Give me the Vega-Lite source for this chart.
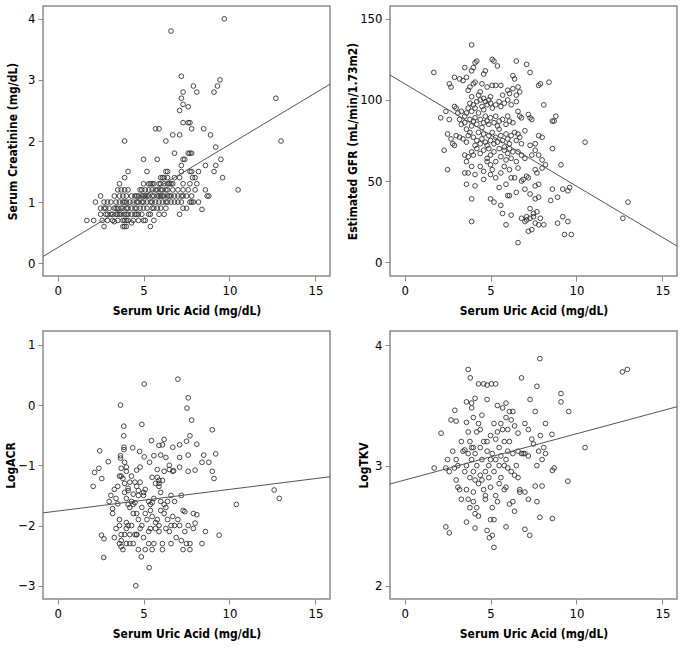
{
"$schema": "https://vega.github.io/schema/vega-lite/v6.json",
"padding": {"left": 3, "top": 5, "right": 3, "bottom": 5},
"background": "white",
"columns": 2,
"spacing": {"row": 55, "column": 60},
"bounds": "flush",
"datasets": {
"p1": [
{"uric":9.7,"value":4.0},{"uric":6.6,"value":3.8},{"uric":7.2,"value":3.06},{"uric":9.45,"value":3.0},{"uric":9.3,"value":2.9},{"uric":7.9,"value":2.9},{"uric":9.1,"value":2.8},{"uric":8.1,"value":2.8},{"uric":7.3,"value":2.8},{"uric":7.2,"value":2.7},{"uric":12.7,"value":2.7},{"uric":7.3,"value":2.6},{"uric":7.6,"value":2.56},{"uric":7.1,"value":2.5},{"uric":7.3,"value":2.3},{"uric":7.6,"value":2.3},{"uric":7.7,"value":2.3},{"uric":5.7,"value":2.2},{"uric":5.9,"value":2.2},{"uric":7.8,"value":2.2},{"uric":8.5,"value":2.2},{"uric":6.7,"value":2.1},{"uric":7.1,"value":2.1},{"uric":8.9,"value":2.1},{"uric":3.9,"value":2.0},{"uric":6.3,"value":2.0},{"uric":13.0,"value":2.0},{"uric":9.2,"value":1.9},{"uric":6.8,"value":1.8},{"uric":7.6,"value":1.8},{"uric":7.7,"value":1.8},{"uric":7.8,"value":1.8},{"uric":5.0,"value":1.7},{"uric":5.8,"value":1.7},{"uric":7.3,"value":1.7},{"uric":7.4,"value":1.7},{"uric":9.5,"value":1.7},{"uric":7.2,"value":1.6},{"uric":8.6,"value":1.6},{"uric":9.2,"value":1.6},{"uric":10.5,"value":1.2},{"uric":8.4,"value":0.88},{"uric":1.7,"value":0.7},{"uric":2.1,"value":0.7},{"uric":2.5,"value":1.1},{"uric":2.2,"value":1.0},
{"uric":4.1,"value":1.5},{"uric":5.2,"value":1.5},{"uric":6.3,"value":1.5},{"uric":6.4,"value":1.5},{"uric":7.2,"value":1.5},{"uric":7.7,"value":1.5},{"uric":7.8,"value":1.5},{"uric":8.2,"value":1.5},{"uric":9.1,"value":1.5},
{"uric":3.9,"value":1.4},{"uric":6.0,"value":1.4},{"uric":6.1,"value":1.4},{"uric":6.2,"value":1.4},{"uric":6.4,"value":1.4},{"uric":6.8,"value":1.4},{"uric":7.1,"value":1.4},{"uric":7.85,"value":1.4},{"uric":8.0,"value":1.4},{"uric":9.6,"value":1.4},
{"uric":3.6,"value":1.3},{"uric":5.0,"value":1.3},{"uric":5.3,"value":1.3},{"uric":5.4,"value":1.3},{"uric":5.5,"value":1.3},{"uric":5.6,"value":1.3},{"uric":5.9,"value":1.3},{"uric":6.0,"value":1.3},{"uric":6.2,"value":1.3},{"uric":6.4,"value":1.3},{"uric":6.5,"value":1.3},{"uric":6.6,"value":1.3},{"uric":6.7,"value":1.3},{"uric":7.3,"value":1.3},{"uric":7.7,"value":1.3},{"uric":8.1,"value":1.3},
{"uric":3.5,"value":1.2},{"uric":3.7,"value":1.2},{"uric":3.9,"value":1.2},{"uric":4.1,"value":1.2},{"uric":4.8,"value":1.2},{"uric":4.9,"value":1.2},{"uric":5.1,"value":1.2},{"uric":5.3,"value":1.2},{"uric":5.5,"value":1.2},{"uric":5.7,"value":1.2},{"uric":5.8,"value":1.2},{"uric":6.0,"value":1.2},{"uric":6.1,"value":1.2},{"uric":6.3,"value":1.2},{"uric":6.4,"value":1.2},{"uric":6.7,"value":1.2},{"uric":7.0,"value":1.2},{"uric":7.3,"value":1.2},{"uric":7.6,"value":1.2},{"uric":8.0,"value":1.2},{"uric":8.6,"value":1.2},
{"uric":3.3,"value":1.1},{"uric":3.6,"value":1.1},{"uric":3.8,"value":1.1},{"uric":4.0,"value":1.1},{"uric":4.3,"value":1.1},{"uric":4.5,"value":1.1},{"uric":4.6,"value":1.1},{"uric":4.7,"value":1.1},{"uric":4.9,"value":1.1},{"uric":5.0,"value":1.1},{"uric":5.1,"value":1.1},{"uric":5.2,"value":1.1},{"uric":5.3,"value":1.1},{"uric":5.5,"value":1.1},{"uric":5.6,"value":1.1},{"uric":5.8,"value":1.1},{"uric":5.9,"value":1.1},{"uric":6.0,"value":1.1},{"uric":6.1,"value":1.1},{"uric":6.2,"value":1.1},{"uric":6.4,"value":1.1},{"uric":6.5,"value":1.1},{"uric":6.6,"value":1.1},{"uric":6.8,"value":1.1},{"uric":7.0,"value":1.1},{"uric":7.2,"value":1.1},{"uric":7.3,"value":1.1},{"uric":7.5,"value":1.1},{"uric":7.8,"value":1.1},{"uric":8.7,"value":1.1},{"uric":8.8,"value":1.1},
{"uric":2.7,"value":1.0},{"uric":2.9,"value":1.0},{"uric":3.1,"value":1.0},{"uric":3.4,"value":1.0},{"uric":3.6,"value":1.0},{"uric":3.8,"value":1.0},{"uric":3.9,"value":1.0},{"uric":4.0,"value":1.0},{"uric":4.2,"value":1.0},{"uric":4.4,"value":1.0},{"uric":4.6,"value":1.0},{"uric":4.7,"value":1.0},{"uric":4.9,"value":1.0},{"uric":5.0,"value":1.0},{"uric":5.2,"value":1.0},{"uric":5.4,"value":1.0},{"uric":5.5,"value":1.0},{"uric":5.7,"value":1.0},{"uric":5.9,"value":1.0},{"uric":6.1,"value":1.0},{"uric":6.3,"value":1.0},{"uric":6.4,"value":1.0},{"uric":6.6,"value":1.0},{"uric":6.8,"value":1.0},{"uric":7.0,"value":1.0},{"uric":7.2,"value":1.0},{"uric":7.7,"value":1.0},{"uric":7.8,"value":1.0},{"uric":7.9,"value":1.0},{"uric":8.2,"value":1.0},
{"uric":2.5,"value":0.9},{"uric":2.7,"value":0.9},{"uric":2.8,"value":0.9},{"uric":3.0,"value":0.9},{"uric":3.3,"value":0.9},{"uric":3.4,"value":0.9},{"uric":3.5,"value":0.9},{"uric":3.7,"value":0.9},{"uric":3.8,"value":0.9},{"uric":4.0,"value":0.9},{"uric":4.1,"value":0.9},{"uric":4.3,"value":0.9},{"uric":4.5,"value":0.9},{"uric":4.6,"value":0.9},{"uric":4.8,"value":0.9},{"uric":5.0,"value":0.9},{"uric":5.2,"value":0.9},{"uric":5.5,"value":0.9},{"uric":5.6,"value":0.9},{"uric":5.8,"value":0.9},{"uric":6.0,"value":0.9},{"uric":6.3,"value":0.9},{"uric":7.3,"value":0.9},{"uric":7.5,"value":0.9},
{"uric":2.5,"value":0.8},{"uric":2.8,"value":0.8},{"uric":2.9,"value":0.8},{"uric":3.1,"value":0.8},{"uric":3.2,"value":0.8},{"uric":3.4,"value":0.8},{"uric":3.5,"value":0.8},{"uric":3.6,"value":0.8},{"uric":3.7,"value":0.8},{"uric":3.9,"value":0.8},{"uric":4.0,"value":0.8},{"uric":4.1,"value":0.8},{"uric":4.3,"value":0.8},{"uric":4.5,"value":0.8},{"uric":4.6,"value":0.8},{"uric":4.7,"value":0.8},{"uric":4.9,"value":0.8},{"uric":5.3,"value":0.8},{"uric":5.4,"value":0.8},{"uric":5.9,"value":0.8},{"uric":6.2,"value":0.8},{"uric":7.1,"value":0.8},
{"uric":2.6,"value":0.7},{"uric":2.9,"value":0.7},{"uric":3.2,"value":0.7},{"uric":3.5,"value":0.7},{"uric":3.8,"value":0.7},{"uric":3.9,"value":0.7},{"uric":4.0,"value":0.7},{"uric":4.1,"value":0.7},{"uric":4.4,"value":0.7},{"uric":4.7,"value":0.7},{"uric":5.0,"value":0.7},{"uric":5.1,"value":0.7},{"uric":5.6,"value":0.7},
{"uric":2.7,"value":0.6},{"uric":3.8,"value":0.6},{"uric":3.9,"value":0.6},{"uric":4.0,"value":0.6},{"uric":5.4,"value":0.6},{"uric":3.3,"value":0.68},{"uric":4.3,"value":0.66}
],
"p2": [
{"uric":3.9,"value":134},{"uric":1.7,"value":117},{"uric":5.1,"value":125},{"uric":5.2,"value":124},{"uric":4.1,"value":123},{"uric":4.2,"value":124},{"uric":6.5,"value":124},{"uric":7.1,"value":122},{"uric":5.4,"value":121},{"uric":3.5,"value":120},{"uric":4.7,"value":118},{"uric":7.3,"value":117},{"uric":4.0,"value":120},{"uric":3.9,"value":118},{"uric":4.6,"value":116},{"uric":6.3,"value":115},{"uric":6.4,"value":113},{"uric":2.9,"value":114},{"uric":3.2,"value":113},{"uric":3.6,"value":114},{"uric":3.4,"value":112},{"uric":4.1,"value":111},{"uric":4.0,"value":110},{"uric":8.4,"value":111},{"uric":7.8,"value":109},{"uric":7.9,"value":110},{"uric":2.6,"value":110},{"uric":2.7,"value":108},{"uric":5.1,"value":109},{"uric":5.6,"value":109},{"uric":5.3,"value":109},{"uric":4.8,"value":108},{"uric":4.5,"value":110},{"uric":6.6,"value":108},{"uric":6.7,"value":105},{"uric":6.0,"value":106},{"uric":6.1,"value":104},{"uric":4.4,"value":105},{"uric":3.8,"value":108},{"uric":3.7,"value":106},{"uric":5.7,"value":103},{"uric":5.0,"value":102},{"uric":4.3,"value":103},{"uric":3.9,"value":102},{"uric":6.5,"value":103},{"uric":6.3,"value":107},{"uric":4.6,"value":101},{"uric":8.1,"value":97},
{"uric":2.1,"value":89},{"uric":2.4,"value":93},{"uric":2.6,"value":88},{"uric":2.9,"value":96},{"uric":3.0,"value":95},{"uric":3.1,"value":92},{"uric":3.2,"value":88},{"uric":3.3,"value":93},{"uric":3.5,"value":90},{"uric":3.6,"value":92},{"uric":3.7,"value":95},{"uric":3.8,"value":98},{"uric":3.9,"value":93},{"uric":4.0,"value":97},{"uric":4.1,"value":95},{"uric":4.2,"value":99},{"uric":4.3,"value":92},{"uric":4.4,"value":100},{"uric":4.5,"value":96},{"uric":4.6,"value":94},{"uric":4.7,"value":99},{"uric":4.8,"value":97},{"uric":4.9,"value":100},{"uric":5.0,"value":98},{"uric":5.1,"value":95},{"uric":5.3,"value":97},{"uric":5.5,"value":99},{"uric":5.6,"value":96},{"uric":5.8,"value":98},{"uric":6.0,"value":100},{"uric":6.2,"value":97},{"uric":6.5,"value":99},
{"uric":3.3,"value":85},{"uric":3.5,"value":86},{"uric":3.6,"value":82},{"uric":3.8,"value":88},{"uric":3.9,"value":84},{"uric":4.0,"value":87},{"uric":4.1,"value":89},{"uric":4.2,"value":85},{"uric":4.4,"value":88},{"uric":4.5,"value":83},{"uric":4.6,"value":86},{"uric":4.7,"value":90},{"uric":4.8,"value":87},{"uric":4.9,"value":85},{"uric":5.0,"value":89},{"uric":5.2,"value":86},{"uric":5.3,"value":90},{"uric":5.4,"value":84},{"uric":5.5,"value":87},{"uric":5.7,"value":88},{"uric":5.9,"value":85},{"uric":6.0,"value":90},{"uric":6.1,"value":87},{"uric":6.3,"value":86},{"uric":6.6,"value":93},{"uric":6.7,"value":90},{"uric":6.8,"value":89},{"uric":7.2,"value":91},{"uric":7.3,"value":89},{"uric":7.4,"value":88},{"uric":8.6,"value":87},{"uric":8.7,"value":87},{"uric":8.8,"value":90},
{"uric":2.5,"value":79},{"uric":2.7,"value":76},{"uric":2.8,"value":73},{"uric":2.9,"value":72},{"uric":3.0,"value":78},{"uric":3.2,"value":77},{"uric":3.4,"value":76},{"uric":3.6,"value":74},{"uric":3.7,"value":78},{"uric":3.8,"value":80},{"uric":4.0,"value":77},{"uric":4.1,"value":72},{"uric":4.2,"value":75},{"uric":4.3,"value":80},{"uric":4.4,"value":73},{"uric":4.5,"value":76},{"uric":4.6,"value":79},{"uric":4.7,"value":74},{"uric":4.8,"value":72},{"uric":4.9,"value":78},{"uric":5.0,"value":75},{"uric":5.1,"value":80},{"uric":5.2,"value":73},{"uric":5.3,"value":77},{"uric":5.4,"value":74},{"uric":5.5,"value":82},{"uric":5.6,"value":78},{"uric":5.7,"value":75},{"uric":5.8,"value":71},{"uric":5.9,"value":79},{"uric":6.0,"value":76},{"uric":6.1,"value":73},{"uric":6.2,"value":78},{"uric":6.4,"value":80},{"uric":6.5,"value":75},{"uric":6.6,"value":79},{"uric":6.7,"value":77},{"uric":6.8,"value":73},{"uric":7.0,"value":81},{"uric":7.3,"value":72},{"uric":7.6,"value":73},{"uric":7.8,"value":78},{"uric":8.0,"value":77},{"uric":8.6,"value":70},
{"uric":2.3,"value":69},{"uric":3.5,"value":66},{"uric":3.6,"value":62},{"uric":3.7,"value":65},{"uric":3.9,"value":68},{"uric":4.0,"value":66},{"uric":4.2,"value":70},{"uric":4.4,"value":67},{"uric":4.6,"value":69},{"uric":4.8,"value":64},{"uric":4.9,"value":70},{"uric":5.0,"value":66},{"uric":5.2,"value":68},{"uric":5.3,"value":62},{"uric":5.5,"value":70},{"uric":5.6,"value":65},{"uric":5.8,"value":69},{"uric":5.9,"value":63},{"uric":6.0,"value":67},{"uric":6.1,"value":70},{"uric":6.2,"value":64},{"uric":6.3,"value":68},{"uric":6.5,"value":62},{"uric":6.6,"value":68},{"uric":6.8,"value":66},{"uric":7.0,"value":64},{"uric":7.4,"value":66},{"uric":7.6,"value":69},{"uric":7.8,"value":66},{"uric":8.0,"value":63},{"uric":8.2,"value":60},
{"uric":2.5,"value":57},{"uric":3.5,"value":55},{"uric":3.7,"value":55},{"uric":3.9,"value":59},{"uric":4.1,"value":54},{"uric":4.4,"value":59},{"uric":4.6,"value":56},{"uric":4.8,"value":62},{"uric":5.0,"value":60},{"uric":5.1,"value":57},{"uric":5.3,"value":52},{"uric":5.6,"value":55},{"uric":5.8,"value":59},{"uric":6.1,"value":57},{"uric":6.2,"value":52},{"uric":6.4,"value":52},{"uric":6.6,"value":58},{"uric":6.8,"value":50},{"uric":6.9,"value":51},{"uric":7.1,"value":53},{"uric":7.2,"value":52},{"uric":7.6,"value":57},{"uric":7.7,"value":55},{"uric":8.0,"value":58},{"uric":9.1,"value":60},{"uric":10.5,"value":74},
{"uric":3.6,"value":48},{"uric":4.1,"value":47},{"uric":4.6,"value":51},{"uric":5.0,"value":54},{"uric":5.5,"value":46},{"uric":5.9,"value":48},{"uric":6.0,"value":41},{"uric":6.1,"value":41},{"uric":6.5,"value":43},{"uric":7.0,"value":45},{"uric":7.3,"value":42},{"uric":7.6,"value":47},{"uric":7.8,"value":48},{"uric":7.8,"value":40},{"uric":7.6,"value":39},{"uric":8.5,"value":38},{"uric":8.6,"value":45},{"uric":8.9,"value":40},{"uric":9.2,"value":45},{"uric":9.5,"value":44},{"uric":9.6,"value":46},
{"uric":3.9,"value":39},{"uric":5.0,"value":39},{"uric":5.2,"value":37},{"uric":5.6,"value":35},{"uric":5.7,"value":30},{"uric":6.2,"value":29},{"uric":7.3,"value":33},{"uric":7.5,"value":30},{"uric":7.7,"value":31},{"uric":7.1,"value":28},{"uric":7.0,"value":25},{"uric":7.1,"value":26},{"uric":7.2,"value":19},{"uric":7.4,"value":20},{"uric":7.3,"value":27},{"uric":7.9,"value":27},{"uric":7.6,"value":24},{"uric":7.8,"value":23},{"uric":8.1,"value":23},{"uric":8.9,"value":24},{"uric":9.5,"value":25},{"uric":9.3,"value":17},{"uric":9.7,"value":17},{"uric":9.2,"value":28},{"uric":5.9,"value":23},{"uric":6.6,"value":12},{"uric":6.8,"value":27},{"uric":3.9,"value":25},{"uric":12.7,"value":27},{"uric":13.0,"value":37},{"uric":7.5,"value":28}
],
"p3": [
{"uric":5.04,"value":0.35},{"uric":7.0,"value":0.43},{"uric":3.66,"value":0.0},{"uric":7.6,"value":0.12},{"uric":7.53,"value":-0.05},{"uric":7.8,"value":-0.25},{"uric":3.85,"value":-0.35},{"uric":4.9,"value":-0.32},{"uric":9.0,"value":-0.41},{"uric":3.85,"value":-0.51},{"uric":7.7,"value":-0.51},{"uric":6.2,"value":-0.57},{"uric":5.46,"value":-0.59},{"uric":7.5,"value":-0.6},{"uric":8.1,"value":-0.65},{"uric":7.1,"value":-0.66},{"uric":5.9,"value":-0.67},{"uric":6.1,"value":-0.66},{"uric":2.45,"value":-0.76},{"uric":3.86,"value":-0.7},{"uric":3.86,"value":-0.74},{"uric":4.37,"value":-0.71},{"uric":4.77,"value":-0.77},{"uric":6.7,"value":-0.7},{"uric":9.2,"value":-0.81},{"uric":8.5,"value":-0.83},{"uric":7.6,"value":-0.83},{"uric":7.1,"value":-0.87},{"uric":6.0,"value":-0.83},{"uric":6.3,"value":-0.87},{"uric":5.04,"value":-0.86},{"uric":5.6,"value":-0.84},{"uric":3.66,"value":-0.84},{"uric":3.66,"value":-0.88},{"uric":2.95,"value":-0.94},{"uric":5.35,"value":-0.95},{"uric":8.4,"value":-0.95},{"uric":8.8,"value":-0.95},{"uric":2.4,"value":-1.05},{"uric":2.15,"value":-1.12},{"uric":4.0,"value":-1.03},{"uric":3.7,"value":-1.05},{"uric":4.8,"value":-1.03},{"uric":4.6,"value":-1.08},{"uric":7.1,"value":-1.03},{"uric":6.5,"value":-1.0},{"uric":6.5,"value":-1.07},{"uric":6.7,"value":-1.1},{"uric":6.75,"value":-1.09},{"uric":5.8,"value":-1.07},{"uric":6.2,"value":-1.1},{"uric":7.6,"value":-1.1},{"uric":8.0,"value":-1.08},{"uric":9.0,"value":-1.1},{"uric":9.1,"value":-1.22},{"uric":2.07,"value":-1.35},{"uric":2.57,"value":-1.22},{"uric":10.4,"value":-1.65},{"uric":12.6,"value":-1.41},{"uric":12.9,"value":-1.55},{"uric":9.4,"value":-2.16},{"uric":2.68,"value":-2.53},{"uric":4.87,"value":-2.52},{"uric":5.33,"value":-2.7},{"uric":4.55,"value":-3.0},{"uric":2.55,"value":-2.16},{"uric":2.7,"value":-2.22},
{"uric":3.1,"value":-1.5},{"uric":3.2,"value":-1.72},{"uric":3.2,"value":-1.8},{"uric":3.3,"value":-1.4},{"uric":3.4,"value":-1.55},{"uric":3.5,"value":-1.35},{"uric":3.5,"value":-1.64},{"uric":3.6,"value":-1.9},{"uric":3.6,"value":-2.0},{"uric":3.7,"value":-2.15},{"uric":3.7,"value":-2.25},{"uric":3.7,"value":-2.35},{"uric":3.8,"value":-2.4},{"uric":3.6,"value":-1.18},{"uric":3.7,"value":-1.18},{"uric":3.9,"value":-1.3},{"uric":3.9,"value":-1.45},{"uric":4.0,"value":-1.55},{"uric":4.0,"value":-1.95},{"uric":4.0,"value":-2.05},{"uric":4.1,"value":-1.38},{"uric":4.1,"value":-1.42},{"uric":4.1,"value":-2.0},{"uric":4.2,"value":-1.7},{"uric":4.2,"value":-2.3},{"uric":4.3,"value":-1.6},{"uric":4.3,"value":-2.0},{"uric":4.4,"value":-1.65},{"uric":4.4,"value":-1.8},{"uric":4.5,"value":-2.15},{"uric":4.5,"value":-1.28},{"uric":4.6,"value":-1.35},{"uric":4.6,"value":-1.8},{"uric":4.6,"value":-2.15},{"uric":4.7,"value":-1.5},{"uric":4.7,"value":-1.9},{"uric":4.7,"value":-2.4},{"uric":4.8,"value":-1.28},{"uric":4.8,"value":-2.05},{"uric":4.9,"value":-1.7},{"uric":4.9,"value":-2.0},{"uric":5.0,"value":-1.5},{"uric":5.0,"value":-1.45},{"uric":5.1,"value":-1.4},{"uric":5.1,"value":-2.4},{"uric":5.2,"value":-1.9},{"uric":5.3,"value":-1.6},{"uric":5.3,"value":-2.1},{"uric":5.3,"value":-2.3},{"uric":5.4,"value":-1.65},{"uric":5.4,"value":-1.75},{"uric":5.4,"value":-2.05},{"uric":5.5,"value":-1.2},{"uric":5.5,"value":-1.85},{"uric":5.5,"value":-2.4},{"uric":5.6,"value":-2.3},{"uric":5.6,"value":-1.55},{"uric":5.7,"value":-1.3},{"uric":5.7,"value":-1.95},{"uric":5.8,"value":-1.2},{"uric":5.8,"value":-1.9},{"uric":5.9,"value":-1.25},{"uric":5.9,"value":-1.3},{"uric":5.9,"value":-1.35},{"uric":5.9,"value":-2.0},{"uric":6.0,"value":-1.6},{"uric":6.0,"value":-1.75},{"uric":6.1,"value":-1.25},{"uric":6.1,"value":-2.3},{"uric":6.1,"value":-2.4},{"uric":6.2,"value":-1.65},{"uric":6.2,"value":-1.8},{"uric":6.3,"value":-2.05},{"uric":6.3,"value":-1.7},{"uric":6.4,"value":-1.9},{"uric":6.5,"value":-2.1},{"uric":6.6,"value":-1.5},{"uric":6.6,"value":-2.3},{"uric":6.7,"value":-1.85},{"uric":6.8,"value":-1.6},{"uric":6.8,"value":-2.0},{"uric":7.0,"value":-1.9},{"uric":7.1,"value":-2.0},{"uric":7.2,"value":-1.5},{"uric":7.2,"value":-2.25},{"uric":7.3,"value":-1.75},{"uric":7.4,"value":-1.77},{"uric":7.3,"value":-2.4},{"uric":7.4,"value":-2.1},{"uric":7.5,"value":-2.3},{"uric":7.6,"value":-2.0},{"uric":7.7,"value":-2.4},{"uric":7.7,"value":-2.3},{"uric":7.9,"value":-2.05},{"uric":7.9,"value":-1.8},{"uric":8.1,"value":-1.82},{"uric":8.0,"value":-1.96},{"uric":8.4,"value":-2.3},{"uric":8.6,"value":-2.1},{"uric":3.4,"value":-2.05},{"uric":3.6,"value":-2.3},{"uric":3.9,"value":-2.15},{"uric":4.0,"value":-2.3},{"uric":4.2,"value":-2.15},{"uric":4.4,"value":-2.3},{"uric":4.6,"value":-2.15},{"uric":5.0,"value":-2.2},{"uric":5.7,"value":-2.05},{"uric":6.6,"value":-2.0},{"uric":6.9,"value":-2.2},{"uric":4.0,"value":-1.1},{"uric":3.9,"value":-0.95},{"uric":3.8,"value":-1.22},{"uric":4.2,"value":-1.28},{"uric":4.4,"value":-1.48},{"uric":4.7,"value":-1.42},{"uric":5.5,"value":-1.62},{"uric":5.1,"value":-1.8},{"uric":4.3,"value":-1.18},{"uric":6.0,"value":-1.45},{"uric":6.4,"value":-1.6},{"uric":5.9,"value":-2.1},{"uric":4.1,"value":-1.65},{"uric":4.5,"value":-1.62},{"uric":3.3,"value":-2.2},{"uric":3.0,"value":-1.6}
],
"p4": [
{"uric":7.87,"value":3.89},{"uric":12.67,"value":3.78},{"uric":12.96,"value":3.8},{"uric":3.7,"value":3.8},{"uric":3.82,"value":3.73},{"uric":4.3,"value":3.68},{"uric":4.6,"value":3.68},{"uric":4.8,"value":3.67},{"uric":5.05,"value":3.68},{"uric":5.3,"value":3.68},{"uric":6.8,"value":3.73},{"uric":7.7,"value":3.66},{"uric":9.1,"value":3.6},{"uric":9.1,"value":3.53},{"uric":9.55,"value":3.45},{"uric":2.92,"value":3.46},{"uric":2.7,"value":3.38},{"uric":3.0,"value":3.37},{"uric":2.12,"value":3.27},{"uric":1.72,"value":2.98},{"uric":2.4,"value":2.49},{"uric":2.6,"value":2.44},{"uric":3.6,"value":2.53},{"uric":4.1,"value":2.48},{"uric":4.8,"value":2.46},{"uric":4.93,"value":2.4},{"uric":5.1,"value":2.42},{"uric":5.2,"value":2.32},{"uric":5.9,"value":2.49},{"uric":7.0,"value":2.47},{"uric":7.28,"value":2.42},{"uric":7.87,"value":2.57},{"uric":8.6,"value":2.56},{"uric":9.5,"value":2.87},{"uric":10.5,"value":3.15},{"uric":8.57,"value":3.26},{"uric":8.7,"value":2.98},{"uric":8.6,"value":2.96},
{"uric":3.0,"value":3.05},{"uric":3.1,"value":3.0},{"uric":3.2,"value":2.8},{"uric":3.3,"value":2.72},{"uric":3.3,"value":3.2},{"uric":3.4,"value":3.12},{"uric":3.5,"value":2.95},{"uric":3.6,"value":3.36},{"uric":3.6,"value":3.53},{"uric":3.6,"value":2.8},{"uric":3.7,"value":2.72},{"uric":3.7,"value":3.1},{"uric":3.7,"value":3.28},{"uric":3.8,"value":2.65},{"uric":3.8,"value":2.9},{"uric":3.8,"value":3.2},{"uric":3.9,"value":3.05},{"uric":3.9,"value":3.48},{"uric":3.9,"value":3.52},{"uric":4.0,"value":3.15},{"uric":4.0,"value":2.95},{"uric":4.0,"value":2.78},{"uric":4.0,"value":2.7},{"uric":4.1,"value":3.1},{"uric":4.1,"value":2.88},{"uric":4.1,"value":2.6},{"uric":4.1,"value":3.56},{"uric":4.2,"value":3.28},{"uric":4.2,"value":3.0},{"uric":4.3,"value":2.85},{"uric":4.3,"value":3.35},{"uric":4.4,"value":3.15},{"uric":4.4,"value":2.92},{"uric":4.5,"value":3.42},{"uric":4.5,"value":3.05},{"uric":4.6,"value":2.8},{"uric":4.6,"value":3.2},{"uric":4.7,"value":2.95},{"uric":4.7,"value":2.72},{"uric":4.8,"value":3.12},{"uric":4.8,"value":3.55},{"uric":4.9,"value":2.9},{"uric":4.9,"value":3.0},{"uric":5.0,"value":3.25},{"uric":5.0,"value":2.82},{"uric":5.0,"value":2.55},{"uric":5.1,"value":3.1},{"uric":5.1,"value":2.65},{"uric":5.2,"value":2.95},{"uric":5.2,"value":3.35},{"uric":5.3,"value":2.75},{"uric":5.3,"value":3.05},{"uric":5.4,"value":3.28},{"uric":5.4,"value":2.7},{"uric":5.4,"value":3.5},{"uric":5.5,"value":3.0},{"uric":5.5,"value":3.15},{"uric":5.6,"value":3.08},{"uric":5.6,"value":2.9},{"uric":5.7,"value":3.3},{"uric":5.7,"value":3.48},{"uric":5.8,"value":3.2},{"uric":5.8,"value":2.8},{"uric":5.9,"value":3.05},{"uric":5.9,"value":3.52},{"uric":6.0,"value":3.3},{"uric":6.0,"value":2.98},{"uric":6.1,"value":3.45},{"uric":6.1,"value":3.2},{"uric":6.2,"value":2.95},{"uric":6.2,"value":3.38},{"uric":6.3,"value":3.1},{"uric":6.3,"value":2.7},{"uric":6.4,"value":3.33},{"uric":6.4,"value":2.62},{"uric":6.5,"value":3.0},{"uric":6.6,"value":3.27},{"uric":6.6,"value":2.9},{"uric":6.7,"value":2.8},{"uric":6.8,"value":3.1},{"uric":6.9,"value":3.1},{"uric":7.0,"value":3.35},{"uric":7.2,"value":3.3},{"uric":7.2,"value":3.08},{"uric":7.3,"value":3.55},{"uric":7.4,"value":3.22},{"uric":7.5,"value":3.18},{"uric":7.6,"value":3.45},{"uric":7.7,"value":3.0},{"uric":7.7,"value":2.7},{"uric":7.8,"value":3.12},{"uric":7.9,"value":3.25},{"uric":8.0,"value":2.83},{"uric":8.0,"value":3.05},{"uric":8.1,"value":3.15},{"uric":8.2,"value":3.35},{"uric":8.2,"value":3.1},{"uric":7.6,"value":2.83},{"uric":7.2,"value":2.72},{"uric":7.0,"value":2.78},{"uric":6.7,"value":2.78},{"uric":6.1,"value":2.68},{"uric":5.9,"value":2.82},{"uric":5.2,"value":2.55},{"uric":4.7,"value":2.75},{"uric":4.3,"value":2.58},{"uric":4.0,"value":3.4},{"uric":3.5,"value":3.13},{"uric":2.5,"value":3.05},{"uric":2.4,"value":2.98},{"uric":2.6,"value":2.95},{"uric":2.8,"value":3.12},{"uric":2.9,"value":2.98},{"uric":3.0,"value":2.88},{"uric":3.1,"value":2.82},{"uric":3.6,"value":3.0},{"uric":4.5,"value":2.88},{"uric":5.0,"value":3.05},{"uric":5.3,"value":3.22},{"uric":5.6,"value":3.35},{"uric":6.0,"value":3.12},{"uric":6.4,"value":2.92},{"uric":5.8,"value":3.0},{"uric":4.8,"value":3.2},{"uric":4.4,"value":3.3},{"uric":3.9,"value":3.15},{"uric":6.6,"value":3.12},{"uric":7.0,"value":3.1},{"uric":5.5,"value":2.85},{"uric":4.2,"value":2.65},{"uric":5.9,"value":3.4},{"uric":6.3,"value":3.45}
],
"l1": [{"uric":-0.85,"value":0.11},{"uric":15.85,"value":2.93}],
"l2": [{"uric":-0.85,"value":115.4},{"uric":15.85,"value":9.9}],
"l3": [{"uric":-0.85,"value":-1.79},{"uric":15.85,"value":-1.19}],
"l4": [{"uric":-0.85,"value":2.847},{"uric":15.85,"value":3.49}]
},
"concat": [
{"width": 287, "height": 270,
 "layer": [
  {"data": {"name": "p1"}, "mark": {"type": "point"},
   "encoding": {
    "x": {"field": "uric", "type": "quantitative", "scale": {"domain": [-0.85, 15.85], "nice": false, "zero": false}, "axis": {"values": [0,5,10,15], "format": "d", "title": "Serum Uric Acid (mg/dL)"}},
    "y": {"field": "value", "type": "quantitative", "scale": {"domain": [-0.21, 4.21], "nice": false, "zero": false}, "axis": {"values": [0,1,2,3,4], "format": "d", "title": "Serum Creatinine (mg/dL)", "titleX": -24, "titleY": 135}}}},
  {"data": {"name": "l1"}, "mark": {"type": "line", "clip": true, "color": "#555", "strokeWidth": 1},
   "encoding": {"x": {"field": "uric", "type": "quantitative"}, "y": {"field": "value", "type": "quantitative"}}}
 ]},
{"width": 287, "height": 270,
 "layer": [
  {"data": {"name": "p2"}, "mark": {"type": "point"},
   "encoding": {
    "x": {"field": "uric", "type": "quantitative", "scale": {"domain": [-0.85, 15.85], "nice": false, "zero": false}, "axis": {"values": [0,5,10,15], "format": "d", "title": "Serum Uric Acid (mg/dL)"}},
    "y": {"field": "value", "type": "quantitative", "scale": {"domain": [-8.6, 158], "nice": false, "zero": false}, "axis": {"values": [0,50,100,150], "format": "d", "title": "Estimated GFR (mL/min/1.73m2)", "titleX": -31, "titleY": 135}}}},
  {"data": {"name": "l2"}, "mark": {"type": "line", "clip": true, "color": "#555", "strokeWidth": 1},
   "encoding": {"x": {"field": "uric", "type": "quantitative"}, "y": {"field": "value", "type": "quantitative"}}}
 ]},
{"width": 287, "height": 268,
 "layer": [
  {"data": {"name": "p3"}, "mark": {"type": "point"},
   "encoding": {
    "x": {"field": "uric", "type": "quantitative", "scale": {"domain": [-0.85, 15.85], "nice": false, "zero": false}, "axis": {"values": [0,5,10,15], "format": "d", "title": "Serum Uric Acid (mg/dL)"}},
    "y": {"field": "value", "type": "quantitative", "scale": {"domain": [-3.22, 1.23], "nice": false, "zero": false}, "axis": {"values": [-3,-2,-1,0,1], "format": "d", "title": "LogACR", "titleX": -26, "titleY": 134}}}},
  {"data": {"name": "l3"}, "mark": {"type": "line", "clip": true, "color": "#555", "strokeWidth": 1},
   "encoding": {"x": {"field": "uric", "type": "quantitative"}, "y": {"field": "value", "type": "quantitative"}}}
 ]},
{"width": 287, "height": 268,
 "layer": [
  {"data": {"name": "p4"}, "mark": {"type": "point"},
   "encoding": {
    "x": {"field": "uric", "type": "quantitative", "scale": {"domain": [-0.85, 15.85], "nice": false, "zero": false}, "axis": {"values": [0,5,10,15], "format": "d", "title": "Serum Uric Acid (mg/dL)"}},
    "y": {"field": "value", "type": "quantitative", "scale": {"domain": [1.89, 4.12], "nice": false, "zero": false}, "axis": {"values": [2,3,4], "format": "d", "title": "LogTKV", "titleX": -20, "titleY": 134}}}},
  {"data": {"name": "l4"}, "mark": {"type": "line", "clip": true, "color": "#555", "strokeWidth": 1},
   "encoding": {"x": {"field": "uric", "type": "quantitative"}, "y": {"field": "value", "type": "quantitative"}}}
 ]}
],
"config": {
 "view": {"stroke": "#8a8a8a", "strokeWidth": 1.5},
 "axis": {"domain": false, "grid": false, "tickColor": "#8a8a8a", "tickSize": 5, "tickWidth": 1,
  "labelFont": "DejaVu Sans Condensed, sans-serif", "labelFontSize": 13, "labelColor": "#000", "labelPadding": 3,
  "titleFont": "DejaVu Sans Condensed, sans-serif", "titleFontSize": 12, "titleFontWeight": "bold", "titleColor": "#000", "titlePadding": 8},
 "point": {"shape": "circle", "filled": false, "stroke": "#333", "strokeWidth": 0.9, "size": 22, "opacity": 1}
}
}
